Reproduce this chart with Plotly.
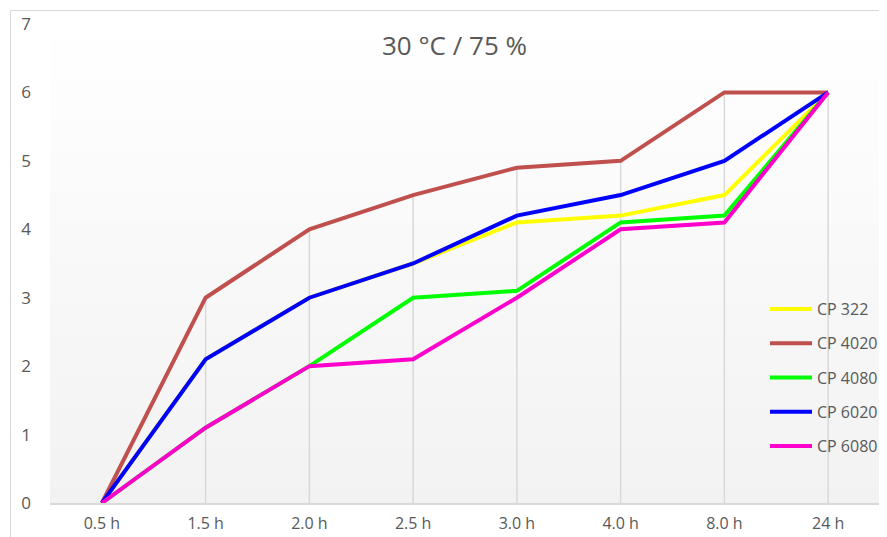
import plotly.graph_objects as go

categories = ["0.5 h", "1.5 h", "2.0 h", "2.5 h", "3.0 h", "4.0 h", "8.0 h", "24 h"]
series_names = ["CP 322", "CP 4020", "CP 4080", "CP 6020", "CP 6080"]
cp322 = [0, 2.1, 3, 3.5, 4.1, 4.2, 4.5, 6]
cp4020 = [0, 3, 4, 4.5, 4.9, 5, 6, 6]
cp4080 = [0, 1.1, 2, 3, 3.1, 4.1, 4.2, 6]
cp6020 = [0, 2.1, 3, 3.5, 4.2, 4.5, 5, 6]
cp6080 = [0, 1.1, 2, 2.1, 3, 4, 4.1, 6]
y_ticks = [0, 1, 2, 3, 4, 5, 6, 7]

series_values = [cp322, cp4020, cp4080, cp6020, cp6080]
colors = ["#ffff00", "#c0504d", "#00ff00", "#0000ff", "#ff00cc"]

# page is offset by the body margin (8px); positions below are in page pixels
OFF = 8
W, H = 887, 537
PL, PR, PT, PB = 50, 880, 24, 503  # plot area in page pixels
ML, MT = PL - OFF, PT - OFF
MR, MB = W - (PR - OFF), H - (PB - OFF)
pw, ph = PR - PL, PB - PT

fig = go.Figure()
xs = list(range(len(categories)))
for name, vals, col in zip(series_names, series_values, colors):
    fig.add_trace(go.Scatter(
        x=xs, y=vals, name=name, mode="lines",
        line=dict(color=col, width=4),
        legendgroup=name,
    ))

px = lambda p: (p - PL) / pw
py = lambda p: (PB - p) / ph

shapes = []
# vertical gradient background in plot area
N = 60
top = (255, 255, 255)
bot = (242, 242, 242)
for i in range(N):
    t = (i + 0.5) / N
    c = tuple(round(top[k] + (bot[k] - top[k]) * t) for k in range(3))
    shapes.append(dict(type="rect", xref="paper", yref="paper",
                       x0=0, x1=1, y0=1 - (i + 1) / N, y1=1 - i / N + 0.001,
                       fillcolor="rgb(%d,%d,%d)" % c, line=dict(width=0), layer="below"))
# drop lines from highest value at each category
for i in xs:
    m = max(v[i] for v in series_values)
    if m > 0:
        shapes.append(dict(type="line", xref="x", yref="y", x0=i, x1=i, y0=0, y1=m,
                           line=dict(color="#d9d9d9", width=1.5), layer="below"))
# outer chart border (left and top)
shapes.append(dict(type="line", xref="paper", yref="paper", x0=px(10.5), x1=px(10.5),
                   y0=py(560), y1=py(10.5), line=dict(color="#d9d9d9", width=1)))
shapes.append(dict(type="line", xref="paper", yref="paper", x0=px(10.5), x1=px(900),
                   y0=py(10.5), y1=py(10.5), line=dict(color="#d9d9d9", width=1)))

fig.update_layout(
    width=W, height=H,
    margin=dict(l=ML, r=MR, t=MT, b=MB),
    paper_bgcolor="white", plot_bgcolor="white",
    font=dict(family="Open Sans, Noto Sans, sans-serif", color="#595959", size=16),
    shapes=shapes,
    showlegend=True,
    legend=dict(x=px(765), y=py(292), xanchor="left", yanchor="top",
                bgcolor="rgba(0,0,0,0)", font=dict(size=16, color="#595959"),
                tracegroupgap=10.5, itemwidth=42),
    annotations=[dict(text="30 °C / 75 %", xref="paper", yref="paper",
                      x=px(454), y=py(45), xanchor="center", yanchor="middle",
                      showarrow=False, font=dict(size=26, color="#595959"))],
    xaxis=dict(tickmode="array", tickvals=xs, ticktext=categories,
               range=[-0.5, len(categories) - 0.5], showgrid=False, zeroline=False,
               showline=True, linecolor="#d9d9d9", linewidth=1.5, ticks="",
               ticklabelstandoff=5, automargin=False,
               tickfont=dict(size=16, color="#595959")),
    yaxis=dict(tickmode="array", tickvals=y_ticks, range=[0, 7], showgrid=False,
               zeroline=False, showline=False, ticks="", ticklabelstandoff=18,
               automargin=False,
               tickfont=dict(size=17, color="#595959")),
)

fig.write_html("out.html")
